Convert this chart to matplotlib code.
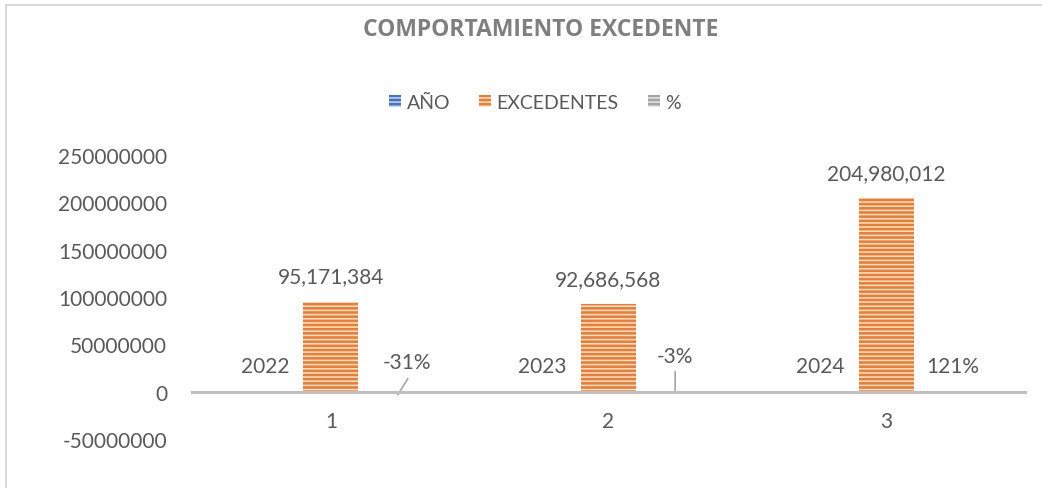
import matplotlib
matplotlib.use('Agg')
import matplotlib.pyplot as plt
from matplotlib.patches import Patch, Rectangle
from matplotlib.transforms import ScaledTranslation
import numpy as np

# ---- data ----
categories = [1, 2, 3]
anio = [2022, 2023, 2024]
excedentes = [95171384, 92686568, 204980012]
pct = [-0.31, -0.03, 1.21]
pct_labels = ['-31%', '-3%', '121%']
series_names = ['AÑO', 'EXCEDENTES', '%']
y_ticks = [-50000000, 0, 50000000, 100000000, 150000000, 200000000, 250000000]

# ---- style ----
plt.rcParams['font.family'] = ['Lato', 'DejaVu Sans']
plt.rcParams['hatch.linewidth'] = 1.1
TXT = '#595959'
colors = ['#4472C4', '#ED7D31', '#A5A5A5']
stripes = ['#C9D7F0', '#FCE4D4', '#E4E4E4']
W, H, DPI = 1042, 489, 100

fig = plt.figure(figsize=(W / DPI, H / DPI), dpi=DPI)
ax = fig.add_axes([192 / W, 1 - 440 / H, (1025 - 192) / W, (440 - 156) / H])

x = np.array(categories, dtype=float)
bw = 0.198
series = [anio, excedentes, pct]
for i, (vals, c, s) in enumerate(zip(series, colors, stripes)):
    ax.bar(x + (i - 1) * bw, vals, width=bw, color=c, edgecolor=s,
           linewidth=0, hatch='----', zorder=2)

ax.set_xlim(0.5, 3.5)
ax.set_ylim(y_ticks[0], y_ticks[-1])

for sp in ['top', 'right', 'left']:
    ax.spines[sp].set_visible(False)
ax.spines['bottom'].set_position(('data', 0))
ax.spines['bottom'].set_color('#BFBFBF')
ax.spines['bottom'].set_linewidth(2.2)
ax.spines['bottom'].set_zorder(3)

ax.set_xticks(x)
ax.set_xticklabels([str(c) for c in categories])
ax.set_yticks(y_ticks)
ax.set_yticklabels([str(v) for v in y_ticks])
ax.tick_params(axis='x', length=0, pad=14, labelsize=15, labelcolor=TXT)
ax.tick_params(axis='y', length=0, pad=18, labelsize=15, labelcolor=TXT)

px = 72.0 / DPI  # pixels -> points

# data labels: EXCEDENTES
for xc, v in zip(x, excedentes):
    ax.annotate(f"{v:,}", xy=(xc, v), xytext=(0, 25 * px), textcoords='offset points',
                ha='center', va='center', fontsize=15, color=TXT)

# data labels: AÑO
for xc, v in zip(x - bw, anio):
    ax.annotate(str(v), xy=(xc, v), xytext=(-11 * px, 26 * px), textcoords='offset points',
                ha='center', va='center', fontsize=15, color=TXT)

# data labels: % (moved labels with leader lines)
pct_label_offsets = [(21.5, 30), (11.5, 36), (12, 26)]
leaders = [((12, -3), (22, 13)), ((11.7, 0), (11.7, 20)), None]
for xc, v, lab, off, ld in zip(x + bw, pct, pct_labels, pct_label_offsets, leaders):
    ax.annotate(lab, xy=(xc, v), xytext=(off[0] * px, off[1] * px), textcoords='offset points',
                ha='center', va='center', fontsize=15, color=TXT)
    if ld is not None:
        (sx, sy), (ex, ey) = ld
        tr = ax.transData + ScaledTranslation(sx / DPI, sy / DPI, fig.dpi_scale_trans)
        ax.annotate('', xy=(xc, v), xycoords=tr,
                    xytext=((ex - sx) * px, (ey - sy) * px), textcoords='offset points',
                    arrowprops=dict(arrowstyle='-', color='#A6A6A6', lw=1.2,
                                    shrinkA=0, shrinkB=0))

# legend
handles = [Patch(facecolor=c, edgecolor=s, linewidth=0, hatch='----', label=n)
           for c, s, n in zip(colors, stripes, series_names)]
fig.legend(handles=handles, loc='center', bbox_to_anchor=(535 / W, 1 - 103 / H), ncol=3,
           frameon=False, fontsize=14, handlelength=0.6, handleheight=0.6,
           columnspacing=1.5, handletextpad=0.3, labelcolor=TXT)

# title
fig.text(541 / W, 1 - 30 / H, 'COMPORTAMIENTO EXCEDENTE', fontsize=16.5, fontweight='bold',
         family=['Open Sans', 'DejaVu Sans'], color='#7F7F7F', ha='center', va='center')

# chart border
fig.add_artist(Rectangle((6 / W, -0.5), 2, 1.5 - 6 / H, transform=fig.transFigure,
                         fill=False, edgecolor='#D9D9D9', linewidth=1.5))

fig.savefig('out.png', dpi=DPI)
